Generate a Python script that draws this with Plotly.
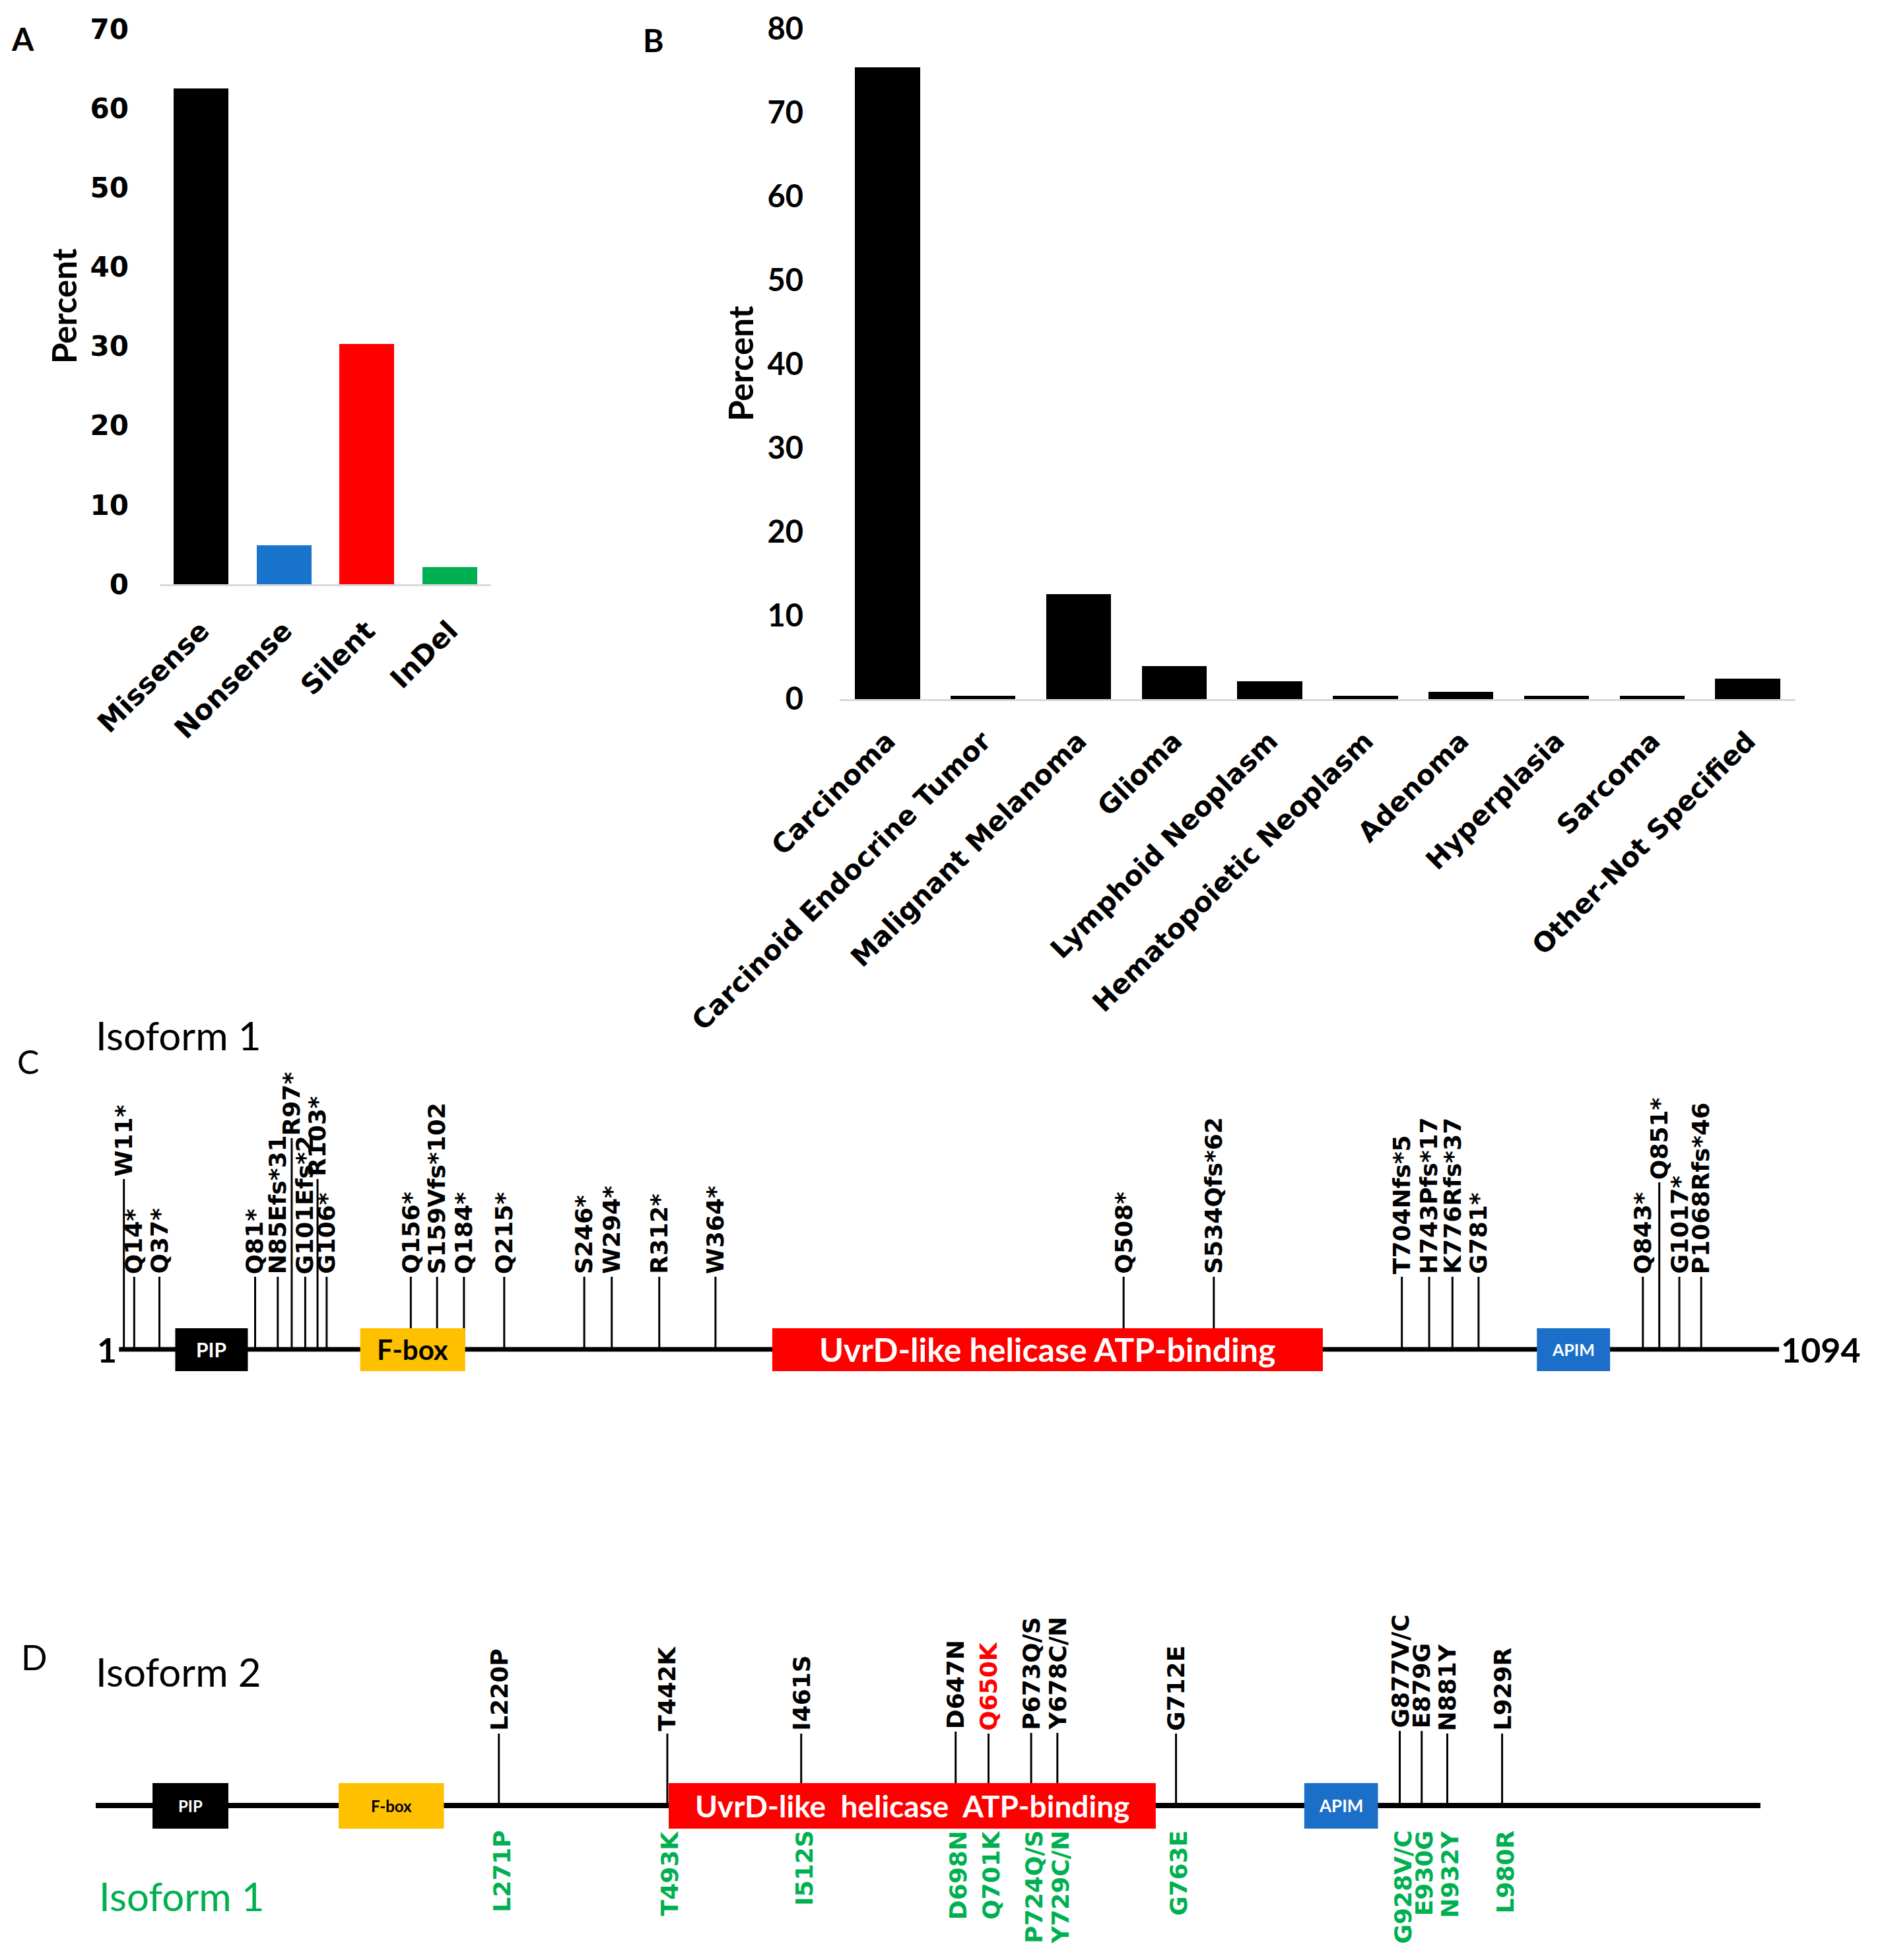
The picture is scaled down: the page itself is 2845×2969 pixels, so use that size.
import plotly.graph_objects as go

W, H = 2845, 2969

# ---------------- Panel A data ----------------
a_categories = ["Missense", "Nonsense", "Silent", "InDel"]
a_values = [62.5, 4.9, 30.3, 2.2]
a_colors = ["#000000", "#1874CD", "#FF0000", "#00B050"]
a_ticks = [0, 10, 20, 30, 40, 50, 60, 70]

# ---------------- Panel B data ----------------
b_categories = ["Carcinoma", "Carcinoid Endocrine Tumor", "Malignant Melanoma", "Glioma",
                "Lymphoid Neoplasm", "Hematopoietic Neoplasm", "Adenoma", "Hyperplasia",
                "Sarcoma", "Other-Not Specified"]
b_values = [75.4, 0.4, 12.6, 4.0, 2.2, 0.4, 0.9, 0.4, 0.4, 2.5]
b_ticks = [0, 10, 20, 30, 40, 50, 60, 70, 80]

# ---------------- Panel C data (isoform 1, schematic positions) ----------------
c_length = [1, 1094]
c_labels = ["W11*", "Q14*", "Q37*", "Q81*", "N85Efs*31", "R97*", "G101Efs*2", "R103*", "G106*",
            "Q156*", "S159Vfs*102", "Q184*", "Q215*", "S246*", "W294*", "R312*", "W364*",
            "Q508*", "S534Qfs*62", "T704Nfs*5", "H743Pfs*17", "K776Rfs*37", "G781*",
            "Q843*", "Q851*", "G1017*", "P1068Rfs*46"]
c_pos = [4.2, 11.0, 27.6, 90.6, 105.5, 114.7, 123.6, 131.7, 137.7,
         193.1, 210.4, 228.1, 254.6, 307.3, 325.4, 356.7, 393.7,
         662.4, 721.8, 845.6, 863.6, 878.9, 896.1,
         1004.3, 1015.1, 1028.3, 1042.7]
c_stem = [258, 110, 110, 110, 110, 320, 110, 258, 110,
          110, 110, 110, 110, 110, 110, 110, 110,
          110, 110, 110, 110, 110, 110,
          110, 253, 110, 110]
c_dom_names = ["PIP", "F-box", "UvrD-like helicase ATP-binding", "APIM"]
c_dom_start = [38.0, 159.8, 431.1, 934.5]
c_dom_end = [85.8, 228.9, 793.6, 982.7]
c_dom_colors = ["#000000", "#FFC000", "#FF0000", "#1C6FC8"]
c_dom_textcolors = ["white", "black", "white", "white"]
c_dom_fontsizes = [30, 42, 50, 25]

# ---------------- Panel D data (isoform 2 vs isoform 1) ----------------
d_length = [1, 1094]
d_upper = ["L220P", "T442K", "I461S", "D647N", "Q650K", "P673Q/S", "Y678C/N", "G712E",
           "G877V/C", "E879G", "N881Y", "L929R"]
d_lower = ["L271P", "T493K", "I512S", "D698N", "Q701K", "P724Q/S", "Y729C/N", "G763E",
           "G928V/C", "E930G", "N932Y", "L980R"]
d_pos = [265.7, 376.3, 464.2, 565.6, 587.2, 615.2, 632.4, 710.3, 857.2, 871.6, 888.4, 924.4]
d_stem = [109, 109, 109, 112, 109, 110, 110, 109, 113, 113, 109, 109]
d_upper_colors = ["black", "black", "black", "black", "#FF0000", "black", "black", "black",
                  "black", "black", "black", "black"]
d_dom_names = ["PIP", "F-box", "UvrD-like  helicase  ATP-binding", "APIM"]
d_dom_start = [38.3, 160.5, 377.2, 794.5]
d_dom_end = [88.1, 229.6, 697.0, 842.9]
d_dom_colors = ["#000000", "#FFC000", "#FF0000", "#1C6FC8"]
d_dom_textcolors = ["white", "black", "white", "white"]
d_dom_fontsizes = [24, 24, 46, 26]

GREEN = "#00B050"
LABEL_FONT = dict(family="DejaVu Sans", size=36, color="black", weight="bold")


def py(p):
    return 1 - p / H


fig = go.Figure()

# Panel A bars
fig.add_trace(go.Bar(x=a_categories, y=a_values, marker=dict(color=a_colors, line_width=0),
                     width=0.66, xaxis="x", yaxis="y", showlegend=False, hoverinfo="skip"))
# Panel B bars
fig.add_trace(go.Bar(x=b_categories, y=b_values, marker=dict(color="#000000", line_width=0),
                     width=0.68, xaxis="x2", yaxis="y2", showlegend=False, hoverinfo="skip"))

# Panel C backbone + stems
fig.add_trace(go.Scatter(x=c_length, y=[0, 0], mode="lines", line=dict(color="black", width=7),
                         xaxis="x3", yaxis="y3", showlegend=False, hoverinfo="skip"))
sx, sy = [], []
for p, h in zip(c_pos, c_stem):
    sx += [p, p, None]
    sy += [0, h, None]
fig.add_trace(go.Scatter(x=sx, y=sy, mode="lines", line=dict(color="black", width=3),
                         xaxis="x3", yaxis="y3", showlegend=False, hoverinfo="skip"))

# Panel D backbone + stems
fig.add_trace(go.Scatter(x=d_length, y=[0, 0], mode="lines", line=dict(color="black", width=8),
                         xaxis="x4", yaxis="y4", showlegend=False, hoverinfo="skip"))
sx, sy = [], []
for p, h in zip(d_pos, d_stem):
    sx += [p, p, None]
    sy += [0, h, None]
fig.add_trace(go.Scatter(x=sx, y=sy, mode="lines", line=dict(color="black", width=3),
                         xaxis="x4", yaxis="y4", showlegend=False, hoverinfo="skip"))

shapes = []
annotations = []

# Domain boxes
for name, s, e, col, tc, fs in zip(c_dom_names, c_dom_start, c_dom_end, c_dom_colors,
                                   c_dom_textcolors, c_dom_fontsizes):
    shapes.append(dict(type="rect", xref="x3", yref="y3", x0=s, x1=e, y0=-33, y1=32,
                       fillcolor=col, line=dict(width=0), layer="above"))
    annotations.append(dict(x=(s + e) / 2, y=0, xref="x3", yref="y3", text=name, showarrow=False,
                            font=dict(family="Lato", size=fs, color=tc, weight="bold"),
                            xanchor="center", yanchor="middle"))
for name, s, e, col, tc, fs in zip(d_dom_names, d_dom_start, d_dom_end, d_dom_colors,
                                   d_dom_textcolors, d_dom_fontsizes):
    shapes.append(dict(type="rect", xref="x4", yref="y4", x0=s, x1=e, y0=-35, y1=34,
                       fillcolor=col, line=dict(width=0), layer="above"))
    annotations.append(dict(x=(s + e) / 2, y=0, xref="x4", yref="y4", text=name, showarrow=False,
                            font=dict(family="Lato", size=fs, color=tc, weight="bold"),
                            xanchor="center", yanchor="middle"))

# Mutation labels C
for lab, p, h in zip(c_labels, c_pos, c_stem):
    annotations.append(dict(x=p, y=h + 3, xref="x3", yref="y3", text=lab, showarrow=False,
                            textangle=-90, xanchor="center", yanchor="bottom", borderpad=0,
                            font=LABEL_FONT))
# Mutation labels D
for lab, lab2, p, h, col in zip(d_upper, d_lower, d_pos, d_stem, d_upper_colors):
    annotations.append(dict(x=p, y=h + 3, xref="x4", yref="y4", text=lab, showarrow=False,
                            textangle=-90, xanchor="center", yanchor="bottom", borderpad=0,
                            font=dict(family="DejaVu Sans", size=36, color=col, weight="bold")))
    annotations.append(dict(x=p, y=-37, xref="x4", yref="y4", text=lab2, showarrow=False,
                            textangle=-90, xanchor="center", yanchor="top", borderpad=0, xshift=4,
                            font=dict(family="DejaVu Sans", size=36, color=GREEN, weight="bold")))

# Ends of isoform 1
annotations.append(dict(x=c_length[0], y=0, xref="x3", yref="y3", text=str(c_length[0]),
                        showarrow=False, xanchor="right", yanchor="middle", xshift=-2, borderpad=0,
                        font=dict(family="Lato", size=52, color="black", weight="bold")))
annotations.append(dict(x=c_length[1], y=0, xref="x3", yref="y3", text=str(c_length[1]),
                        showarrow=False, xanchor="left", yanchor="middle", xshift=2, borderpad=0,
                        font=dict(family="Lato", size=52, color="black", weight="bold")))

# Titles / panel letters (paper coords)
def paper_text(x, y, text, size, color="black", weight="normal", xanchor="left", angle=0):
    annotations.append(dict(x=x / W, y=py(y), xref="paper", yref="paper", text=text,
                            showarrow=False, xanchor=xanchor, yanchor="middle", textangle=angle,
                            font=dict(family="Lato", size=size, color=color, weight=weight),
                            borderpad=0))

paper_text(34, 58, "A", 48, weight="bold", xanchor="center")
paper_text(990, 60, "B", 48, weight="bold", xanchor="center")
paper_text(42, 1608, "C", 50, xanchor="center")
paper_text(52, 2510, "D", 52, xanchor="center")
paper_text(144, 1568, "Isoform 1", 60)
paper_text(144, 2532, "Isoform 2", 60)
paper_text(149, 2872, "Isoform 1", 60, color=GREEN)
paper_text(97, 464, "Percent", 51, weight="bold", xanchor="center", angle=-90)
paper_text(1121, 551, "Percent", 51, weight="bold", xanchor="center", angle=-90)

fig.update_layout(
    width=W, height=H, autosize=False,
    margin=dict(l=0, r=0, t=0, b=0, pad=0, autoexpand=False),
    paper_bgcolor="white", plot_bgcolor="white",
    bargap=0, showlegend=False,
    shapes=shapes, annotations=annotations,
    xaxis=dict(domain=[242 / W, 744 / W], anchor="y", showline=True, linecolor="#D9D9D9",
               linewidth=3, showgrid=False, zeroline=False, ticks="", tickangle=-45,
               ticklabelstandoff=26, automargin=False,
               tickfont=dict(family="DejaVu Sans", size=42, color="black", weight="bold")),
    yaxis=dict(domain=[py(885), py(44)], anchor="x", range=[0, 70], tickvals=a_ticks,
               showline=False, showgrid=False, zeroline=False, ticks="", ticklabelstandoff=46,
               automargin=False,
               tickfont=dict(family="DejaVu Sans", size=42, color="black", weight="bold")),
    xaxis2=dict(domain=[1272 / W, 2720 / W], anchor="y2", showline=True, linecolor="#D9D9D9",
                linewidth=3, showgrid=False, zeroline=False, ticks="", tickangle=-45,
                ticklabelstandoff=20, automargin=False,
                tickfont=dict(family="DejaVu Sans", size=41, color="black", weight="bold")),
    yaxis2=dict(domain=[py(1059), py(43.5)], anchor="x2", range=[0, 80], tickvals=b_ticks,
                showline=False, showgrid=False, zeroline=False, ticks="", ticklabelstandoff=54,
                automargin=False,
                tickfont=dict(family="Lato", size=47, color="black", weight="bold")),
    xaxis3=dict(domain=[0, 1], anchor="y3", range=[-77.37, 1159.1], visible=False,
                automargin=False),
    yaxis3=dict(domain=[py(2100), py(1500)], anchor="x3", range=[-56, 544], visible=False,
                automargin=False),
    xaxis4=dict(domain=[0, 1], anchor="y4", range=[-61.84, 1171.2], visible=False,
                automargin=False),
    yaxis4=dict(domain=[0, py(2450)], anchor="x4", range=[-234, 285], visible=False,
                automargin=False),
)

fig.write_html("out.html", config={"displayModeBar": False},
               post_script="document.body.style.margin='0';document.body.style.overflow='hidden';")
